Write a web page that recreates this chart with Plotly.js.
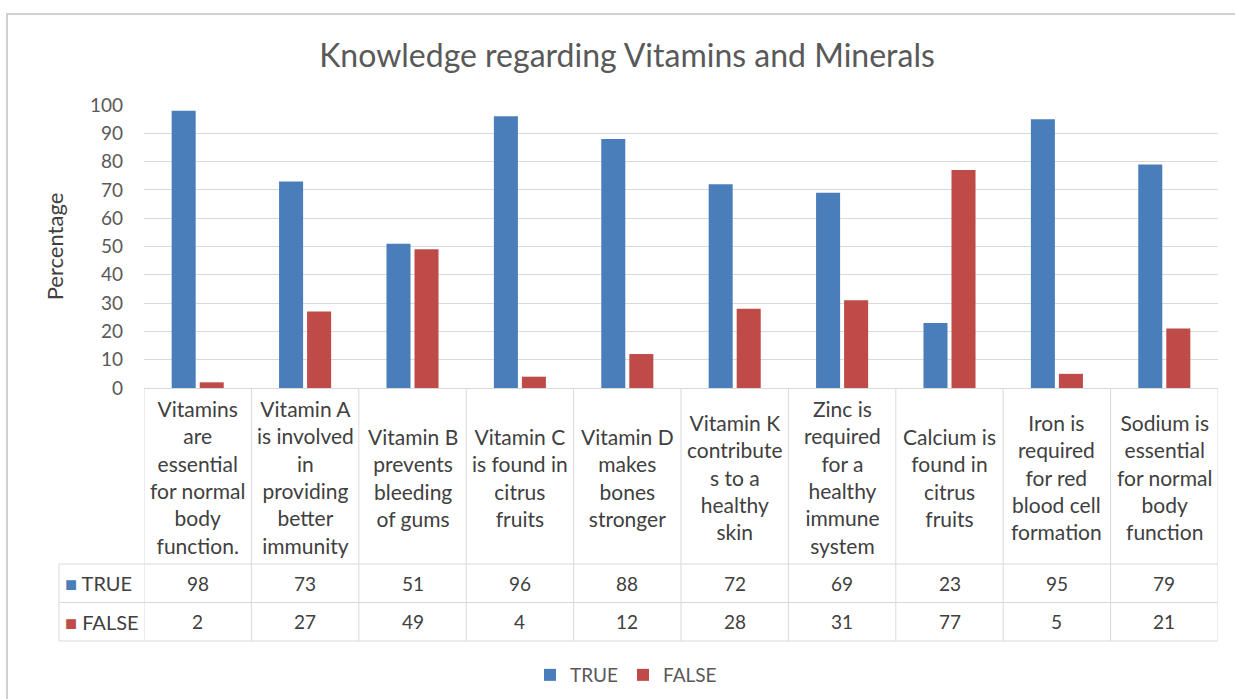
<!DOCTYPE html>
<html>
<head>
<meta charset="utf-8">
<script src="https://cdn.plot.ly/plotly-3.0.1.min.js"></script>
<style>html,body{margin:0;padding:0;background:#fff;}#chart{width:1235px;height:699px;}</style>
</head>
<body>
<div id="chart"></div>
<script>
// ---- data ----
const chartTitle = "Knowledge regarding Vitamins and Minerals";
const yTitle = "Percentage";
const categories = [
  "Vitamins<br>are<br>essential<br>for normal<br>body<br>function.",
  "Vitamin A<br>is involved<br>in<br>providing<br>better<br>immunity",
  "Vitamin B<br>prevents<br>bleeding<br>of gums",
  "Vitamin C<br>is found in<br>citrus<br>fruits",
  "Vitamin D<br>makes<br>bones<br>stronger",
  "Vitamin K<br>contribute<br>s to a<br>healthy<br>skin",
  "Zinc is<br>required<br>for a<br>healthy<br>immune<br>system",
  "Calcium is<br>found in<br>citrus<br>fruits",
  "Iron is<br>required<br>for red<br>blood cell<br>formation",
  "Sodium is<br>essential<br>for normal<br>body<br>function"
];
const seriesNames = ["TRUE", "FALSE"];
const trueValues  = [98, 73, 51, 96, 88, 72, 69, 23, 95, 79];
const falseValues = [2, 27, 49, 4, 12, 28, 31, 77, 5, 21];
const yTicks = [0, 10, 20, 30, 40, 50, 60, 70, 80, 90, 100];

// ---- styling / layout geometry ----
const W = 1235, H = 699;
const L = 144, R = 1218, T = 105, B = 388;
const colors = ["#4A7EBB", "#BE4B48"];
const FONT = "Lato, 'Open Sans', sans-serif";
const textCol = "#404040";
const lineCol = "#d9d9d9";
const px2x = px => (px - L) / (R - L);
const py2y = py => (B - py) / (B - T);

const rowTop = 564, rowMid = 602.5, rowBot = 641, tableLeft = 59;

const traces = [trueValues, falseValues].map((vals, s) => ({
  type: "bar",
  name: seriesNames[s],
  x: categories.map((c, i) => i),
  y: vals,
  marker: {color: colors[s]},
  hoverinfo: "y+name"
}));

const shapes = [];
const annotations = [];
// table horizontal lines
[rowTop, rowMid, rowBot].forEach(py => shapes.push({
  type: "line", xref: "paper", yref: "paper",
  x0: px2x(tableLeft), x1: 1, y0: py2y(py), y1: py2y(py),
  line: {color: lineCol, width: 1}
}));
// table left border of legend column
shapes.push({type: "line", xref: "paper", yref: "paper",
  x0: px2x(tableLeft), x1: px2x(tableLeft), y0: py2y(rowTop), y1: py2y(rowBot),
  line: {color: lineCol, width: 1}});
// category column borders
for (let i = 0; i <= categories.length; i++) {
  shapes.push({type: "line", xref: "x", yref: "paper",
    x0: i - 0.5, x1: i - 0.5, y0: 0, y1: py2y(rowBot),
    line: {color: lineCol, width: 1}});
}
// outer chart border
shapes.push({type: "rect", xref: "paper", yref: "paper",
  x0: px2x(7), x1: px2x(1260), y0: py2y(740), y1: py2y(14),
  line: {color: "#d0d0d0", width: 2}, fillcolor: "rgba(0,0,0,0)", layer: "below"});

// category text + values
categories.forEach((c, i) => {
  annotations.push({xref: "x", yref: "paper", x: i, y: py2y((B + rowTop) / 2 + 1),
    text: c, showarrow: false, xanchor: "center", yanchor: "middle", align: "center",
    font: {family: FONT, size: 21, color: textCol}});
  annotations.push({xref: "x", yref: "paper", x: i, y: py2y((rowTop + rowMid) / 2),
    text: String(trueValues[i]), showarrow: false, xanchor: "center", yanchor: "middle",
    font: {family: FONT, size: 19, color: textCol}});
  annotations.push({xref: "x", yref: "paper", x: i, y: py2y((rowMid + rowBot) / 2),
    text: String(falseValues[i]), showarrow: false, xanchor: "center", yanchor: "middle",
    font: {family: FONT, size: 19, color: textCol}});
});
// legend keys in the table
seriesNames.forEach((n, s) => {
  const yc = s === 0 ? (rowTop + rowMid) / 2 : (rowMid + rowBot) / 2;
  annotations.push({xref: "paper", yref: "paper", x: px2x(63), y: py2y(yc),
    text: '<span style="color:' + colors[s] + '">■</span> ' + n,
    showarrow: false, xanchor: "left", yanchor: "middle",
    font: {family: FONT, size: 20, color: textCol}});
});

const layout = {
  width: W, height: H,
  margin: {l: L, r: W - R, t: T, b: H - B, pad: 0, autoexpand: false},
  paper_bgcolor: "#ffffff", plot_bgcolor: "#ffffff",
  font: {family: FONT, color: "#595959"},
  title: {text: chartTitle, font: {family: FONT, size: 32, color: "#595959"},
    xref: "paper", x: px2x(627), xanchor: "center",
    yref: "container", y: 1 - 56 / H, yanchor: "middle"},
  barmode: "group", bargap: 0.478, bargroupgap: 0.143,
  xaxis: {type: "linear", range: [-0.5, categories.length - 0.5],
    showticklabels: false, showgrid: false, zeroline: false,
    showline: false, ticks: "", fixedrange: true},
  yaxis: {range: [0, 100], tickvals: yTicks, showgrid: true, gridcolor: lineCol, gridwidth: 1,
    zeroline: true, zerolinecolor: lineCol, zerolinewidth: 1, showline: false, ticks: "",
    ticklabelstandoff: 20,
    tickfont: {family: FONT, size: 19, color: "#595959"},
    title: {text: yTitle, font: {family: FONT, size: 22, color: "#404040"}, standoff: 20},
    fixedrange: true},
  showlegend: true,
  legend: {orientation: "h", x: px2x(626), xanchor: "center", y: py2y(675), yanchor: "middle",
    font: {family: FONT, size: 19, color: "#595959"}, itemwidth: 30, traceorder: "normal"},
  shapes: shapes,
  annotations: annotations
};

Plotly.newPlot("chart", traces, layout, {displayModeBar: false, staticPlot: true});
</script>
</body>
</html>
